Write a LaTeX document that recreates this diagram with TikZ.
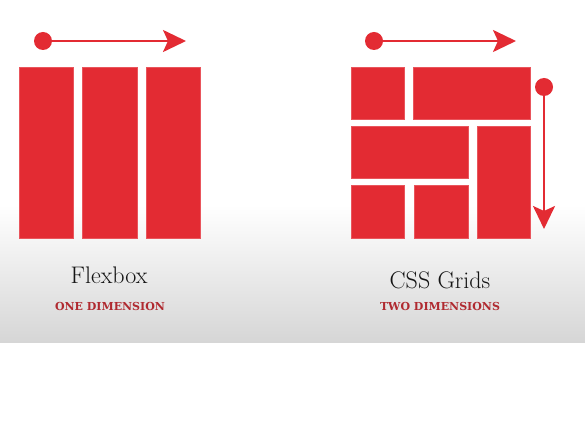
\documentclass[tikz,border=0pt]{standalone}
\usepackage{fontspec}
\newfontfamily\subfont{DejaVu Serif}
\usetikzlibrary{arrows.meta}
\definecolor{boxred}{HTML}{E32B33}
\definecolor{subred}{HTML}{B02A30}
\definecolor{floor}{HTML}{D6D6D6}
\begin{document}
\begin{tikzpicture}[x=1pt,y=-1pt,
  cell/.style={fill=boxred,draw=boxred!80!white,line width=0.4pt},
  dir/.style={boxred,line width=2.3pt,-{Stealth[length=23pt,width=22pt,inset=5pt]}},
  dot/.style={circle,fill=boxred,inner sep=0pt,minimum size=18pt},
  title/.style={font=\fontsize{24}{24}\selectfont,text=black!92,anchor=base},
  subtitle/.style={font=\subfont\bfseries\fontsize{11}{11}\selectfont,text=subred,anchor=base}]
  \useasboundingbox (0,0) rectangle (585,427);
  % backdrop: white fading into a grey floor band
  \fill[white] (0,0) rectangle (585,427);
  \shade[top color=white,bottom color=floor] (0,205) rectangle (585,342);

  % Flexbox: three columns in one row
  \fill[cell] (19,67) rectangle (73,238);
  \fill[cell] (82,67) rectangle (137,238);
  \fill[cell] (146,67) rectangle (200,238);
  \node[dot] (fstart) at (43,41) {};
  \coordinate (fend) at (186,41);
  \draw[dir] (fstart.center) -- (fend);

  % CSS Grids: cells across rows and columns
  \fill[cell] (351,67) rectangle (404,119);
  \fill[cell] (413,67) rectangle (530,119);
  \fill[cell] (351,126) rectangle (468,178);
  \fill[cell] (477,126) rectangle (530,238);
  \fill[cell] (351,185) rectangle (404,238);
  \fill[cell] (414,185) rectangle (468,238);
  \node[dot] (gstart) at (374,41) {};
  \coordinate (gend) at (516,41);
  \draw[dir] (gstart.center) -- (gend);
  \node[dot] (vstart) at (544,87) {};
  \coordinate (vend) at (544,229);
  \draw[dir] (vstart.center) -- (vend);

  % captions
  \node[title] (flex) at (109,283) {Flexbox};
  \node[subtitle] (flexsub) at (110,310) {ONE DIMENSION};
  \node[title] (grid) at (440,288) {CSS Grids};
  \node[subtitle] (gridsub) at (440,310) {TWO DIMENSIONS};
\end{tikzpicture}
\end{document}
